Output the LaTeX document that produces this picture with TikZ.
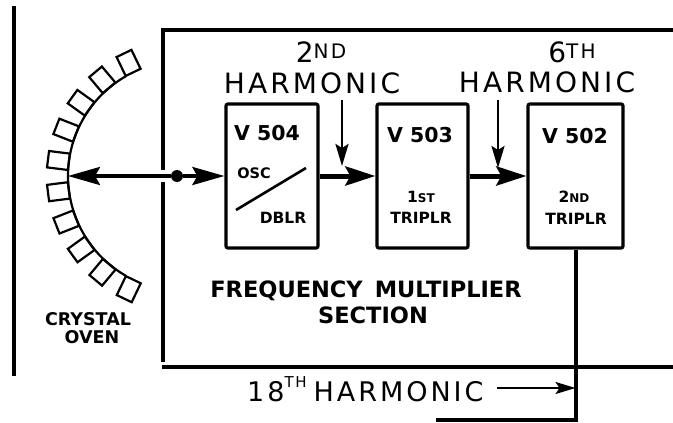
\documentclass[tikz,border=0pt]{standalone}
\usepackage{fontspec}
\setmainfont{DejaVu Sans}
\newfontfamily\hfont{DejaVu Sans}[LetterSpace=11]
\usetikzlibrary{arrows.meta,calc}

\begin{document}
\begin{tikzpicture}[x=1pt,y=-1pt,
  wall/.style={line width=4pt},
  tube/.style={rectangle,draw,rounded corners=2pt,line width=3.2pt,minimum height=144pt,inner sep=0pt},
  tubename/.style={font=\bfseries\fontsize{20.5}{20}\selectfont,inner sep=0pt,anchor=base},
  tubetext/.style={font=\bfseries\fontsize{15.5}{16}\selectfont,inner sep=0pt,anchor=base},
  harmtext/.style={font=\hfont\fontsize{28}{28}\selectfont,inner sep=0pt,anchor=base},
  labeltext/.style={font=\bfseries\fontsize{22.5}{22}\selectfont,inner sep=0pt,anchor=base},
  oventext/.style={font=\bfseries\fontsize{17.5}{18}\selectfont,inner sep=0pt,anchor=base},
  cell/.style={rectangle,draw,line width=2.2pt,minimum width=21pt,minimum height=16.5pt,inner sep=0pt},
  junction/.style={circle,fill,inner sep=0pt,minimum size=12pt},
  mainarrow/.style={-{Stealth[length=32pt,width=18pt,inset=5pt]},line width=3.6pt},
  linkarrow/.style={-{Stealth[length=30pt,width=19pt,inset=5pt]},line width=5pt},
  feedarrow/.style={-{Stealth[length=22pt,width=13pt,inset=4pt]},line width=2.6pt},
  outarrow/.style={-{Stealth[length=20pt,width=12pt,inset=4pt]},line width=2pt}]
\useasboundingbox (0,0) rectangle (673,423);

% walls of the set and of the multiplier section
\draw[wall,line width=4.5pt] (14,6) -- (14,376);
\draw[wall] (673,30) -- (163,30) -- (163,170);
\draw[wall] (163,182) -- (163,362);
\draw[wall] (162,367) -- (673,367);

% crystal oven
\coordinate (ovencentre) at (183,176);
\coordinate (ovenface) at ($(ovencentre)+(180:115)$);
\draw[line width=2.2pt] ($(ovencentre)+(120:115)$) arc[start angle=120,end angle=240,radius=115];
\foreach \i in {0,...,9}{
  \pgfmathsetmacro{\a}{115.6+14.3*\i}
  \node[cell,rotate=-\a] (cell\i) at ($(ovencentre)+(\a:125.5)$) {};
}
\node[oventext] (crystal) at (88,325) {CRYSTAL};
\node[oventext] (oven) at (92,343) {OVEN};

% multiplier tubes
\node[tube,minimum width=92pt] (v504) at (272,176) {};
\node[tube,minimum width=91pt] (v503) at (422.5,176) {};
\node[tube,minimum width=95pt] (v502) at (575.5,176) {};

\node[tubename] (v504name) at (267,140) {V 504};
\node[tubetext,font=\bfseries\fontsize{14.5}{15}\selectfont] (osc) at (254,178) {OSC};
\draw[line width=2.6pt] ($(v504.center)+(-36,34)$) -- ($(v504.center)+(34,-8)$);
\node[tubetext] (dblr) at (283,223) {DBLR};

\node[tubename] (v503name) at (420,142) {V 503};
\node[tubetext] (first) at (421,202) {1{\fontsize{12}{12}\selectfont ST}};
\node[tubetext] (triplr1) at (421,223) {TRIPLR};

\node[tubename] (v502name) at (575,143) {V 502};
\node[tubetext] (second) at (574,202) {2{\fontsize{12}{12}\selectfont ND}};
\node[tubetext] (triplr2) at (576,224) {TRIPLR};

% signal path
\node[junction] (dot) at (177,176) {};
\draw[mainarrow] (dot) -- (ovenface);
\draw[mainarrow] (dot) -- (v504.west);
\draw[linkarrow] (v504.east) -- (v503.west);
\draw[linkarrow] (v503.east) -- (v502.west);

% harmonic labels
\node[harmtext] (nd) at (321,63) {2\raisebox{5pt}{\fontsize{20}{20}\selectfont ND}};
\node[harmtext] (harm2) at (312,93) {HARMONIC};
\coordinate (t2top) at (342,100);
\coordinate (t2) at (342,166);
\draw[feedarrow] (t2top) -- (t2);

\node[harmtext] (th) at (572,63) {6\raisebox{5pt}{\fontsize{20}{20}\selectfont TH}};
\node[harmtext] (harm6) at (547,92) {HARMONIC};
\coordinate (t6top) at (498,100);
\coordinate (t6) at (498,168);
\draw[feedarrow] (t6top) -- (t6);

\node[labeltext] (freq) at (366,297) {FREQUENCY\hspace{12pt}MULTIPLIER};
\node[labeltext] (section) at (373,323) {SECTION};

% output
\coordinate (tail) at (436,420);
\draw[wall] (v502.south) |- (tail);
\node[harmtext,anchor=base west,font=\hfont\fontsize{27}{28}\selectfont] (h18) at (247,401) {18\raisebox{14pt}{\fontsize{15}{15}\selectfont TH}\hspace{7pt}HARMONIC};
\coordinate (in18) at (497,388);
\draw[outarrow] (in18) -- (in18 -| v502);
\end{tikzpicture}
\end{document}
